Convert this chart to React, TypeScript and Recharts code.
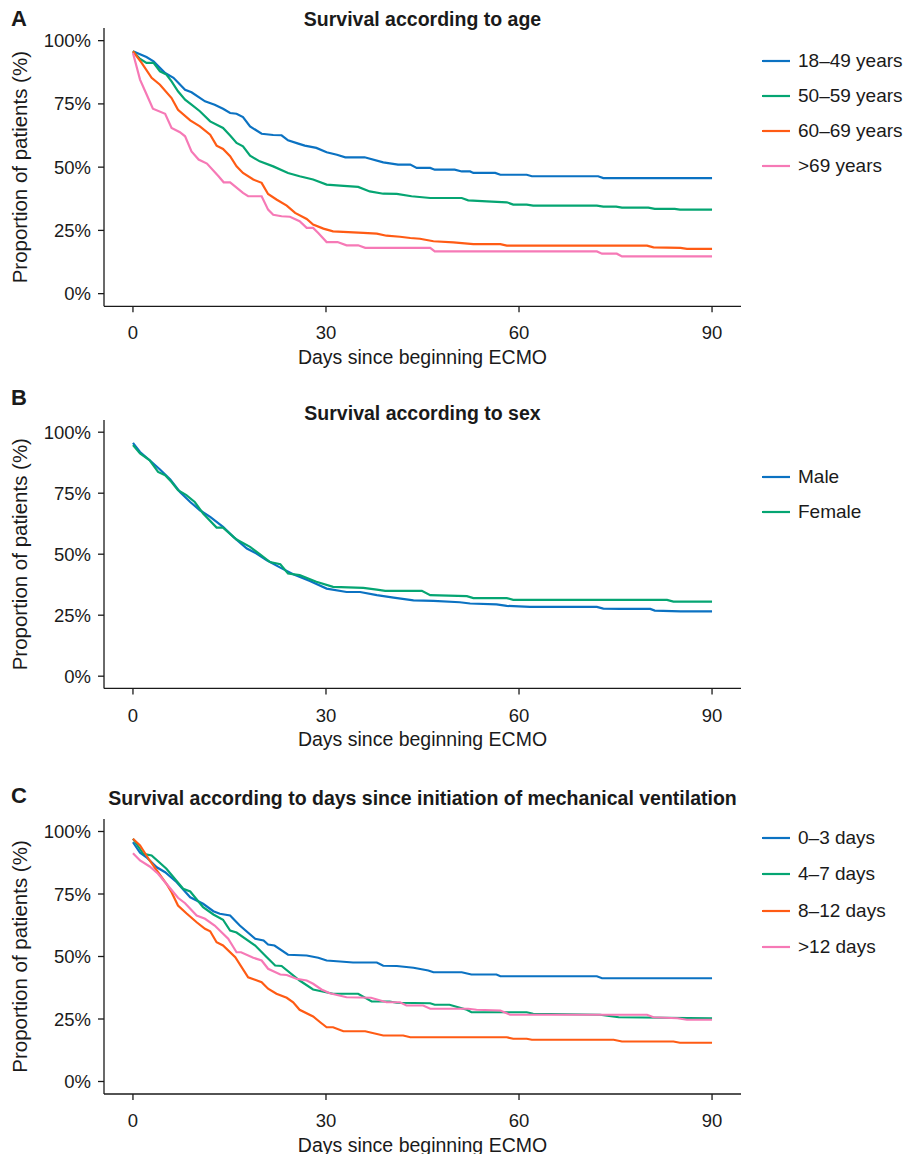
import { LineChart, Line, XAxis, YAxis, Legend } from 'recharts';

// Kaplan-Meier style survival curves, [day, % surviving]
const age18to49 = [[0,95.8],[2.1,93.5],[3.2,91.8],[5,87.2],[6.3,85.3],[8.1,80.6],[9.1,79.6],[11.2,76],[12.7,74.7],[14,73.1],[15.1,71.4],[16.1,71.1],[17.1,69.8],[18.2,66.1],[20,63.2],[21.8,62.7],[23.1,62.6],[24.1,60.6],[25.7,59.3],[26.7,58.5],[28.5,57.6],[30.1,55.9],[31.7,54.9],[33,53.9],[36,53.9],[38.9,51.9],[41.2,51],[43.1,51],[44.1,49.7],[46.2,49.7],[46.9,49],[50,49],[51.1,48.3],[52.4,48.3],[52.9,47.7],[56.3,47.7],[57.1,47],[61.2,47],[62,46.4],[72.3,46.4],[73.1,45.7],[90,45.7]];
const age50to59 = [[0,95.8],[1,93],[2.1,91.2],[3.2,91.2],[4.2,87.9],[5.2,86.6],[6,83.9],[7,80],[8.1,76.7],[9.1,74.7],[10.4,72.1],[12,68.1],[14,65.5],[15.1,62.5],[16.1,59.6],[17.1,58.2],[18.2,54.5],[19.7,52.3],[21.8,50.3],[24.1,47.7],[25.9,46.4],[28,45.1],[30.1,43.1],[32.2,42.7],[35,42.2],[36.8,40.4],[38.9,39.5],[41,39.4],[43.3,38.5],[46.2,37.8],[51.1,37.8],[52.1,36.9],[55,36.5],[58.1,36.1],[59.1,35.2],[61.2,35.2],[62.2,34.8],[72.1,34.8],[73.1,34.4],[75.1,34.4],[76,34],[80.1,34],[81.1,33.5],[84.2,33.5],[85,33.2],[90,33.2]];
const age60to69 = [[0,95.8],[1.35,91.2],[2.9,85.3],[4.2,82.6],[6,77.3],[7,72.7],[8.9,68.5],[10.4,66.1],[12,62.8],[13,58.5],[14,57.2],[15.1,54.3],[16.1,50.3],[17.1,47.7],[18.7,45.1],[20,43.8],[21,39.4],[22.3,37.2],[23.9,34.8],[25.2,31.9],[27,29.5],[28,27.3],[29.6,25.7],[31.1,24.6],[35.8,24],[37.9,23.7],[39.4,22.9],[41.5,22.5],[43.1,22],[44.6,21.7],[46.7,20.7],[49.8,20.3],[52.9,19.6],[57.1,19.6],[58.1,19],[79.9,19],[80.9,18.3],[85.1,18.1],[86.1,17.7],[90,17.7]];
const ageOver69 = [[0,95.1],[1.1,84.6],[1.9,80],[3.1,73.1],[5,71.1],[6,65.5],[7.3,63.8],[8.1,62.2],[9.1,56.2],[10.2,53],[11.5,51.4],[13.3,46.4],[14.1,44],[15.1,44],[17.1,39.8],[17.9,38.5],[20,38.5],[21,33.2],[21.8,31.2],[23.1,30.6],[24.4,30.4],[25.9,28.6],[27,26],[28,26],[28.8,24],[30.1,20.4],[31.8,20.4],[33.2,19.1],[35,19.1],[36.1,18.1],[46.2,18.1],[46.9,16.7],[72.1,16.7],[72.9,15.8],[75.2,15.8],[76,14.7],[90,14.7]];

const sexMale = [[0,95.6],[1.1,91.9],[2.6,88.5],[4.2,84.7],[5.8,80.6],[7.3,75.5],[8.9,71.4],[10.4,68],[12,65.3],[14,61.2],[15.6,57.1],[17.7,52.3],[19.2,50.3],[20.8,47.5],[22.9,44.5],[24.9,41.8],[27.5,39],[30.1,35.9],[33.2,34.5],[35.3,34.5],[37.9,33.2],[40.5,32.2],[43.6,31.1],[46.7,30.9],[50.8,30.3],[52.4,29.8],[56.5,29.4],[58.1,28.8],[61.7,28.4],[72.1,28.4],[73.1,27.7],[75.7,27.6],[80.4,27.6],[81.1,26.9],[85.1,26.6],[90,26.6]];
const sexFemale = [[0,94.7],[1.1,91.3],[2.6,88.5],[3.9,83.7],[5,82.4],[6,79.6],[7,76.2],[8.3,74.2],[9.6,71.4],[10.9,66.7],[13,60.9],[14,60.9],[16.1,56],[18.2,53],[19.7,50],[21.3,46.8],[22.9,45.9],[24.1,42.1],[25.9,41.4],[28.5,38.7],[31.1,36.6],[35.8,36.2],[37.9,35.5],[39.2,35],[44.9,35],[46.2,33.2],[51.9,32.8],[52.9,32],[58.1,32],[59.1,31.3],[83,31.3],[84,30.6],[90,30.6]];

const mv0to3 = [[0,95.7],[1.1,91.5],[2.1,89.7],[3.7,85.7],[5,83.7],[6.8,79.7],[8.9,73.7],[10.9,71.1],[12.5,68.1],[13.5,67.1],[15.1,66.4],[16.6,62.4],[19,57.1],[20.3,56.4],[21,54.8],[22,54.4],[24.1,50.7],[27,50.4],[28.8,49.5],[30.1,48.4],[32.2,48],[34.2,47.6],[37.9,47.6],[38.9,46.3],[41,46.2],[43.6,45.5],[45.9,44.4],[46.7,43.7],[51.1,43.7],[52.6,42.8],[56.5,42.8],[57.1,42.1],[72.1,42.1],[72.9,41.3],[90,41.3]];
const mv4to7 = [[0,97.1],[1.6,91.1],[2.9,90.4],[5.2,85.1],[7.8,77.1],[8.9,76],[10.9,69.7],[12.5,66.8],[14,64.7],[15.1,60.4],[16.1,59.6],[19,54.4],[20.8,49.7],[22.1,46.4],[23.1,46.2],[25.9,40.4],[28,36.8],[31.1,35.1],[35,35.1],[37.1,32],[39.9,32],[41,31.5],[46.2,31.3],[46.9,30.7],[49.2,30.7],[51.9,28.7],[52.6,27.7],[61.2,27.7],[62.2,27.1],[72.6,26.7],[75.5,25.7],[90,25.3]];
const mv8to12 = [[0,97.1],[1.1,94.4],[2.6,88.4],[3.9,83.7],[5.2,79.1],[6,75.7],[7,70.4],[8.3,67.3],[9.9,63.7],[11.2,61.1],[12,60.1],[13,55.7],[14,54.4],[15.9,49.7],[17.9,41.7],[20,39.7],[21,37.1],[22.3,35.1],[23.9,33.5],[24.9,31.7],[25.9,28.7],[28,26],[29.1,23.7],[30.1,21.7],[31.1,21.7],[32.7,20.1],[36.1,20.1],[38.9,18.4],[42,18.4],[43.1,17.7],[58.1,17.7],[59.1,17.1],[61.2,17.1],[62,16.7],[74.7,16.7],[76,16],[84,16],[85,15.5],[90,15.5]];
const mvOver12 = [[0,91.3],[1.1,88.4],[2.6,86],[3.9,83.1],[5.2,79.1],[7,73.5],[8.1,71.3],[9.9,66.4],[11.2,65.1],[12.7,62.4],[14.8,57.1],[16.1,51.7],[16.8,51.7],[18.7,49.5],[20,48.4],[21,45.1],[22.9,42.8],[23.9,42.6],[25.4,41.1],[27,40.4],[28,39.1],[29.3,36.8],[30.6,35.3],[33.2,33.7],[37,33.5],[39.4,31.7],[41.5,31.7],[42.5,30.4],[45.1,30.4],[46.2,29.1],[52.1,29.1],[53.4,28.7],[57.1,28.4],[58.6,26.7],[79.9,26.7],[80.9,25.7],[84.6,25.3],[86.1,24.7],[90,24.7]];

const dayTicks = [0, 30, 60, 90];
const pctTicks = [0, 25, 50, 75, 100];

const BLUE = '#0b72c2';
const GREEN = '#05a572';
const ORANGE = '#ff5b14';
const PINK = '#f679b6';
const INK = '#1a1a1a';
const FONT = '"Liberation Sans", Arial, Helvetica, sans-serif';

type Series = { name: string; color: string; pts: number[][] };

const toPoints = (pts: number[][]) => pts.map(([day, s]) => ({ day, s }));

function KmLegend({ payload, order, rowH }: any) {
  // keep the legend in series order instead of recharts' alphabetical sort
  const items = [...(payload || [])].sort((a: any, b: any) => order.indexOf(a.value) - order.indexOf(b.value));
  return (
    <div style={{ fontFamily: FONT, fontSize: 19, color: INK }}>
      {items.map((p: any) => (
        <div key={p.value} style={{ display: 'flex', alignItems: 'center', height: rowH }}>
          <svg width={50} height={6} style={{ flex: 'none' }}>
            <line x1={21} x2={49} y1={3} y2={3} stroke={p.color} strokeWidth={2.2} />
          </svg>
          <span style={{ marginLeft: 7, whiteSpace: 'nowrap' }}>{p.value}</span>
        </div>
      ))}
    </div>
  );
}

function Panel({ plotTop, plotBottom, legendTop, rowH, series }: {
  plotTop: number; plotBottom: number; legendTop: number; rowH: number; series: Series[];
}) {
  const top = plotTop - 25;
  const height = plotBottom - top + 64;
  return (
    <div style={{ position: 'absolute', left: 0, top }}>
      <LineChart width={907} height={height} margin={{ top: 25, right: 16, bottom: 2, left: 0 }}>
        <XAxis
          dataKey="day"
          type="number"
          domain={[-4.5, 94.5]}
          ticks={dayTicks}
          height={62}
          tickSize={6}
          tickMargin={14}
          stroke={INK}
          strokeWidth={1.3}
          tick={{ fill: INK, fontSize: 18.5 }}
          label={{ value: 'Days since beginning ECMO', position: 'insideBottom', offset: 4, fill: INK, fontSize: 19.5 }}
        />
        <YAxis
          type="number"
          domain={[-5, 105]}
          ticks={pctTicks}
          width={104}
          tickSize={6}
          tickMargin={7}
          stroke={INK}
          strokeWidth={1.3}
          tick={{ fill: INK, fontSize: 18.5 }}
          tickFormatter={(v) => v + '%'}
          label={{
            value: 'Proportion of patients (%)',
            angle: -90,
            position: 'insideLeft',
            offset: 20,
            fill: INK,
            fontSize: 20.5,
            style: { textAnchor: 'middle' },
          }}
        />
        <Legend
          layout="vertical"
          align="right"
          verticalAlign="top"
          content={<KmLegend order={series.map((s) => s.name)} rowH={rowH} />}
          wrapperStyle={{ left: 741, top: legendTop - top, width: 150 }}
        />
        {series.map((s) => (
          <Line
            key={s.name}
            data={toPoints(s.pts)}
            dataKey="s"
            name={s.name}
            type="linear"
            stroke={s.color}
            strokeWidth={2.2}
            dot={false}
            isAnimationActive={false}
          />
        ))}
      </LineChart>
    </div>
  );
}

function Heading({ letter, title, y, letterY }: { letter: string; title: string; y: number; letterY: number }) {
  return (
    <>
      <div style={{ position: 'absolute', left: 11, top: letterY - 13, lineHeight: '26px', fontSize: 22, fontWeight: 700 }}>
        {letter}
      </div>
      <div style={{ position: 'absolute', left: 0, width: 845, top: y - 12, lineHeight: '24px', fontSize: 19.5, fontWeight: 700, textAlign: 'center' }}>
        {title}
      </div>
    </>
  );
}

export default function App() {
  return (
    <div style={{ position: 'absolute', left: 0, top: 0, width: 907, height: 1154, background: '#fff', fontFamily: FONT, color: INK }}>
      <Heading letter="A" title="Survival according to age" y={19} letterY={19} />
      <Panel
        plotTop={28.35}
        plotBottom={306.65}
        legendTop={43.3}
        rowH={35}
        series={[
          { name: '18\u201349 years', color: BLUE, pts: age18to49 },
          { name: '50\u201359 years', color: GREEN, pts: age50to59 },
          { name: '60\u201369 years', color: ORANGE, pts: age60to69 },
          { name: '>69 years', color: PINK, pts: ageOver69 },
        ]}
      />
      <Heading letter="B" title="Survival according to sex" y={413} letterY={398} />
      <Panel
        plotTop={419.8}
        plotBottom={688.2}
        legendTop={459.5}
        rowH={35}
        series={[
          { name: 'Male', color: BLUE, pts: sexMale },
          { name: 'Female', color: GREEN, pts: sexFemale },
        ]}
      />
      <Heading letter="C" title="Survival according to days since initiation of mechanical ventilation" y={798} letterY={796} />
      <Panel
        plotTop={818.5}
        plotBottom={1093.5}
        legendTop={820}
        rowH={36.3}
        series={[
          { name: '0\u20133 days', color: BLUE, pts: mv0to3 },
          { name: '4\u20137 days', color: GREEN, pts: mv4to7 },
          { name: '8\u201312 days', color: ORANGE, pts: mv8to12 },
          { name: '>12 days', color: PINK, pts: mvOver12 },
        ]}
      />
    </div>
  );
}
